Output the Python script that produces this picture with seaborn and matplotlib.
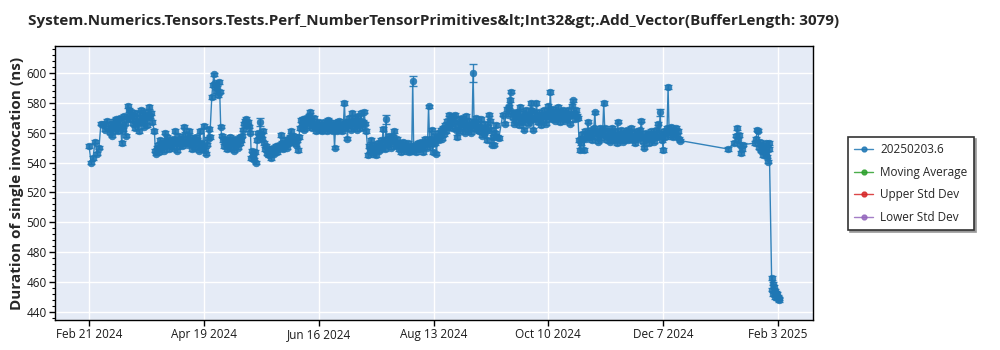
import numpy as np
import pandas as pd
import matplotlib
matplotlib.use("Agg")
import matplotlib.pyplot as plt
from matplotlib.ticker import MultipleLocator
from matplotlib.lines import Line2D
import seaborn as sns

# ---------------- data (day offset from 2024-02-21, duration in ns) ----------------
base_date = "2024-02-21"

days_a = [0, 1, 2, 3, 4, 5, 6, 7, 8, 9]
ns_a = [551, 540, 543, 554, 546, 550, 566, 566, 562, 568]

days_b = [10, 10.5, 11, 11.5, 12, 12.5, 13, 13.5, 14, 14.5, 15, 15.5, 16, 16.5, 17, 17.5, 18, 18.5, 19, 19.5,
          20, 20.5, 21, 21.5, 22, 22.5, 23, 23.5, 24, 24.5, 25, 25.5, 26, 26.5, 27, 27.5, 28, 28.5, 29, 29.5,
          30, 30.5, 31, 31.5, 32, 33]
ns_b = [563, 560, 566, 558, 564, 568, 562, 569, 565, 561, 567, 570, 564, 553, 562, 571, 566, 558, 570, 578,
        575, 569, 572, 574, 566, 571, 563, 568, 573, 566, 561, 570, 575, 567, 572, 564, 569, 574, 570, 565,
        572, 577, 571, 573, 567, 561]

days_c = [33.5, 34, 34.5, 35, 35.5, 36, 36.5, 37, 37.5, 38, 38.5, 39, 39.5, 40, 40.5, 41, 41.5, 42, 42.5, 43,
          43.5, 44, 44.5, 45, 45.5, 46, 46.5, 47, 47.5, 48, 48.5, 49, 49.5, 50, 50.5, 51, 51.5, 52, 52.5, 53,
          53.5, 54, 54.5, 55, 55.5, 56, 56.5, 57, 57.5, 58, 58.5, 59, 59.5, 60, 60.5, 61]
ns_c = [548, 546, 550, 552, 547, 555, 550, 553, 551, 548, 560, 554, 557, 552, 549, 555, 551, 553, 556, 550,
        561, 553, 548, 555, 558, 552, 556, 551, 554, 564, 559, 553, 556, 552, 561, 557, 554, 549, 553, 556,
        550, 557, 555, 552, 548, 561, 553, 549, 552, 564.5, 548.5, 546, 552, 556, 562.5, 557]

days_d = [62, 62.5, 63, 63.5, 64, 64.5, 65, 65.5, 66]
ns_d = [584, 592, 599, 593, 588, 590, 585, 594, 587.5]

days_e = [66.5, 67, 67.5, 68, 68.5, 69, 69.5, 70, 70.5, 71, 71.5, 72, 72.5, 73, 73.5, 74, 74.5, 75, 75.5, 76,
          76.5, 77, 77.5, 78, 78.5, 79, 79.5, 80, 80.5, 81, 81.5]
ns_e = [564, 558, 555, 551, 556, 553, 549, 554, 552, 557, 550, 555, 553, 548, 556, 552, 554, 550, 556, 553,
        557, 555, 558, 562, 566, 568, 569, 565, 567, 564, 560]

days_f = [82, 82.5, 83, 83.5, 84, 84.5, 85, 85.5, 86, 86.5, 87, 87.5, 88, 88.5, 89, 89.5, 90, 90.5, 91, 91.5,
          92, 92.5, 93, 93.5, 94, 94.5, 95, 95.5, 96, 96.5, 97, 97.5, 98, 98.5, 99, 99.5, 100, 100.5, 101, 101.5,
          102, 102.5, 103, 103.5, 104, 104.5, 105, 105.5, 106, 106.5, 107, 107.5, 108, 108.5, 109, 109.5, 110,
          110.5, 111, 111.5, 112, 112.5, 113, 113.5, 114, 114.5, 115, 115.5, 116, 116.5, 117, 117.5, 118, 118.5,
          119, 119.5, 120, 120.5, 121, 121.5, 122, 122.5, 123, 123.5, 124, 124.5, 125, 125.5, 126, 126.5, 127,
          127.5, 128, 128.5, 129, 129.5, 130, 130.5, 131, 131.5, 132, 132.5, 133, 133.5, 134, 134.5, 135, 135.5,
          136, 136.5, 137, 137.5, 138, 138.5, 139, 139.5, 140]
ns_f = [543, 548, 545, 542, 547, 540, 555, 560, 558, 567, 559, 556, 561, 553, 549, 551, 546, 548, 545, 549,
        543, 547, 550, 546, 548, 551, 547, 549, 552, 550, 558.5, 553, 549, 551, 555, 552, 550, 556, 553, 557,
        561, 556, 554, 558, 556, 552, 555, 548.5, 557, 563, 568.5, 565, 569, 562, 566, 570, 564,
        568, 571, 574, 567, 563, 566, 570, 564, 561, 566, 563, 567, 562, 565, 561, 564, 567,
        563, 566, 561, 568.5, 564, 567, 562, 565, 561, 566, 550, 563, 567, 561, 564, 568, 562,
        565, 561, 566, 580, 563, 567, 556, 565, 570, 566, 562, 573, 568, 564, 570, 566, 562,
        571, 565, 568, 573, 563, 567, 574, 566, 561]

days_g = [141, 141.5, 142, 142.5, 143, 143.5, 144, 144.5, 145, 145.5, 146, 146.5, 147, 147.5, 148, 148.5, 149,
          149.5, 150, 150.5, 151, 151.5, 152, 152.5, 153, 153.5, 154, 154.5, 155, 155.5, 156, 156.5, 157, 157.5,
          158, 158.5, 159, 159.5, 160, 160.5, 161, 161.5, 162, 162.5, 163, 163.5, 164, 164.5, 165, 165.5, 166,
          166.5, 167, 167.5, 168, 168.5, 169, 169.5, 170, 170.5, 171, 171.5, 172, 172.5, 173, 173.5, 174, 174.5,
          175, 175.5, 176, 176.5, 177, 177.5, 178, 178.5, 179, 179.5, 180, 180.5, 181, 181.5, 182, 182.5, 183,
          183.5, 184, 184.5, 185, 185.5, 186, 186.5, 187, 187.5, 188, 188.5, 189, 189.5, 190, 190.5, 191, 191.5,
          192, 192.5, 193, 193.5, 194, 194.5, 195, 195.5, 196, 196.5, 197, 197.5, 198, 198.5, 199, 199.5, 200,
          200.5, 201, 201.5, 202, 202.5, 203, 203.5, 204, 204.5, 205, 205.5, 206, 207]
ns_g = [545, 551, 548, 555, 550, 546, 552, 549, 545, 550, 553, 548, 551, 555, 550, 562.5, 553,
        549, 569, 556, 552, 558, 554, 550, 555, 557, 561, 554, 551, 556, 552, 549, 553, 547,
        551, 554, 549, 552, 548, 550, 553, 547, 549, 551, 548, 594.6, 549, 552, 547, 550, 553,
        549, 551, 554, 550, 547, 552, 556, 553, 550, 554, 577.5, 556, 552, 562, 547, 555, 558,
        553, 546, 557, 560, 555, 558, 562, 556, 563, 559, 565, 561, 568, 564, 572, 566, 569,
        563, 571, 567, 572, 562, 557, 565, 569, 561, 566, 570, 563, 567, 560, 571, 565, 562,
        568, 564, 560, 566, 600, 567, 563, 570, 562, 566, 561, 564, 569, 558, 563, 559.6, 566,
        561, 555, 564, 572, 568, 562, 552, 557, 552, 560, 565, 557, 556.5]

days_h = [209, 210, 211, 211.5, 212, 212.5, 213, 213.5, 214, 214.5, 215, 215.5, 216, 216.5, 217, 217.5, 218,
          218.5, 219, 219.5, 220, 220.5, 221, 221.5, 222, 222.5, 223, 223.5, 224, 224.5, 225, 225.5, 226, 226.5,
          227, 227.5, 228, 228.5, 229, 229.5, 230, 230.5, 231, 231.5, 232, 232.5, 233, 233.5, 234, 234.5, 235,
          235.5, 236, 236.5, 237, 237.5, 238, 238.5, 239, 239.5, 240, 240.5, 241, 241.5, 242, 242.5, 243, 243.5,
          244, 244.5, 245, 245.5, 246, 246.5, 247]
ns_h = [572, 566, 576, 572, 577.5, 582, 587.5, 574, 570, 566, 573, 568, 574, 571, 565, 577, 570,
        567, 573, 562, 569, 575, 571, 566, 572, 568, 575, 580, 570, 562, 574, 569, 580, 572,
        567, 574, 570, 565, 572, 568, 575, 571, 566, 573, 578, 570, 587, 574, 569, 576, 571,
        568, 574, 570, 577, 572, 567, 574, 570, 575, 571, 568, 573, 569, 575, 571, 566, 572,
        578, 581.5, 573, 569, 575, 571, 569.6]

days_i = [247.5, 248, 248.5, 249, 249.5, 250, 250.5, 251, 251.5, 252, 252.5, 253, 253.5, 254, 254.5, 255, 255.5,
          256, 256.5, 257, 257.5, 258, 258.5, 259, 259.5, 260, 260.5, 261, 261.5, 262, 262.5, 263, 263.5, 264,
          264.5, 265, 265.5, 266, 266.5, 267, 267.5, 268, 268.5, 269, 269.5, 270, 270.5, 271, 271.5, 272, 272.5,
          273, 273.5, 274, 274.5, 275, 275.5, 276, 276.5, 277, 277.5, 278, 278.5, 279, 279.5, 280, 280.5, 281,
          281.5, 282, 282.5, 283, 283.5, 284, 284.5, 285, 285.5, 286, 286.5, 287, 287.5, 288, 288.5, 289, 289.5,
          290, 290.5, 291, 291.5, 292, 292.5, 293, 293.5, 294, 294.5, 295, 295.5, 296, 296.5, 297, 297.5, 298,
          298.5]
ns_i = [555, 548.5, 553, 559, 556, 548.5, 561, 556, 559, 567.4, 560, 557, 562, 555, 559, 563, 573.5,
        561, 557, 554, 560, 563, 556, 559, 562, 580, 563, 558, 555, 561, 557, 554, 560, 563,
        558, 555, 561, 557, 553, 567.4, 559, 555, 562, 557, 554, 560, 556, 559, 562, 555, 558,
        561, 556, 563, 558, 555, 560, 553, 557, 561, 556, 559, 562, 568, 558, 554, 550, 557,
        560, 556, 559, 553, 557, 561, 556, 559, 554, 558, 562, 557, 566, 560, 573.5, 558, 555,
        548.5, 561, 557, 560, 563, 590.4, 562, 558, 564, 560, 557, 562, 559, 563, 558, 561, 556,
        554.7]

days_j = [323, 326, 327, 327.5, 328, 328.5, 329, 329.5, 330, 330.5, 336.5, 337, 337.5, 338, 338.5, 339, 339.5,
          340, 340.5, 341, 341.5, 342, 342.5, 343, 343.3, 343.6, 344.8, 345, 345.3, 345.6, 346, 346.3, 346.6,
          347, 347.3, 347.6, 348, 348.3, 348.6]
ns_j = [549, 553, 558, 563, 555, 558.5, 552, 546.4, 549, 552, 553, 556, 562, 561.4, 550, 554, 548,
        552, 545, 550, 547, 553, 544, 540.6, 549, 553, 462.6, 455, 459, 452, 457, 450, 454,
        453, 449, 452, 450, 448, 449]

# standard deviation of the runs that show visibly large error bars
err_days = [86.5, 150, 163.5, 194, 288.5, 292.5]
err_ns = [2.5, 3.0, 3.2, 6.0, 2.5, 1.5]
default_err = 1.2

tick_dates = ["2024-02-21", "2024-04-19", "2024-06-16", "2024-08-13", "2024-10-10", "2024-12-07", "2025-02-03"]
tick_labels = ["Feb 21 2024", "Apr 19 2024", "Jun 16 2024", "Aug 13 2024", "Oct 10 2024", "Dec 7 2024", "Feb 3 2025"]

legend_labels = ["20250203.6", "Moving Average", "Upper Std Dev", "Lower Std Dev"]
legend_colors = ["#1f77b4", "#2ca02c", "#d62728", "#9467bd"]

title = "System.Numerics.Tensors.Tests.Perf_NumberTensorPrimitives&lt;Int32&gt;.Add_Vector(BufferLength: 3079)"
ylabel = "Duration of single invocation (ns)"

# ---------------- build frame ----------------
days = np.array(days_a + days_b + days_c + days_d + days_e + days_f + days_g + days_h + days_i + days_j, dtype=float)
ns = np.array(ns_a + ns_b + ns_c + ns_d + ns_e + ns_f + ns_g + ns_h + ns_i + ns_j, dtype=float)
err = np.full(len(days), default_err)
for d, e in zip(err_days, err_ns):
    err[np.isclose(days, d)] = e

dates = pd.Timestamp(base_date) + pd.to_timedelta(days, unit="D")
df = pd.DataFrame({"date": dates, "ns": ns, "err": err})

# ---------------- style ----------------
sns.set_theme(style="darkgrid", rc={
    "axes.facecolor": "#e5ebf6",
    "grid.color": "white",
    "grid.linewidth": 1.0,
    "axes.edgecolor": "black",
    "axes.linewidth": 1.0,
})
plt.rcParams['font.family'] = ['Open Sans', 'DejaVu Sans']

blue = "#1f77b4"
fig = plt.figure(figsize=(10, 3.5), dpi=100)
ax = fig.add_axes([0.055, 0.0857, 0.758, 0.783])

ax.errorbar(df["date"], df["ns"], yerr=df["err"], fmt="none", ecolor=blue,
            elinewidth=1, capsize=3, capthick=1, alpha=0.9, zorder=2)
sns.lineplot(data=df, x="date", y="ns", ax=ax, color=blue, marker="o",
             markersize=4.8, markeredgecolor=blue, markeredgewidth=0.5,
             linewidth=1, alpha=0.9, estimator=None, sort=False, legend=False, zorder=3)

ax.set_xlim(pd.Timestamp("2024-02-03 19:00"), pd.Timestamp("2025-02-20 17:00"))
ax.set_ylim(434.6, 618)
ax.set_xticks(pd.to_datetime(tick_dates))
ax.set_xticklabels(tick_labels)
ax.yaxis.set_major_locator(MultipleLocator(20))
ax.yaxis.set_minor_locator(MultipleLocator(4))
ax.grid(True, which="major", color="white", linewidth=1)
ax.grid(False, which="minor")
ax.tick_params(axis="both", which="major", direction="out", length=4, width=1,
               color="black", labelsize=8.5, labelcolor="#1a1a1a", left=True, bottom=True, pad=2)
ax.tick_params(axis="y", which="minor", direction="out", length=2, width=0.8,
               color="black", left=True)
for s in ax.spines.values():
    s.set_visible(True)
    s.set_color("black")
    s.set_linewidth(1)

ax.set_xlabel("")
ax.set_ylabel(ylabel, fontsize=11, fontweight="bold", labelpad=2)
ax.set_title(title, fontsize=11, fontweight="bold", pad=15)

handles = [Line2D([0], [0], color=c, lw=1, marker="o", markersize=3.5, alpha=0.85)
           for c in legend_colors]
leg = fig.legend(handles, legend_labels, loc="upper left", bbox_to_anchor=(0.848, 0.609),
                 bbox_transform=fig.transFigure, fontsize=8.5, frameon=True, fancybox=False,
                 shadow={"ox": 1.5, "oy": -1.5, "color": "#999999", "alpha": 1},
                 edgecolor="#333333", facecolor="white",
                 framealpha=1, labelspacing=0.8, handlelength=1.6, handletextpad=0.6,
                 borderpad=0.55, borderaxespad=0)
leg.get_frame().set_linewidth(1.2)

fig.savefig("out.png", dpi=100, facecolor="white")
